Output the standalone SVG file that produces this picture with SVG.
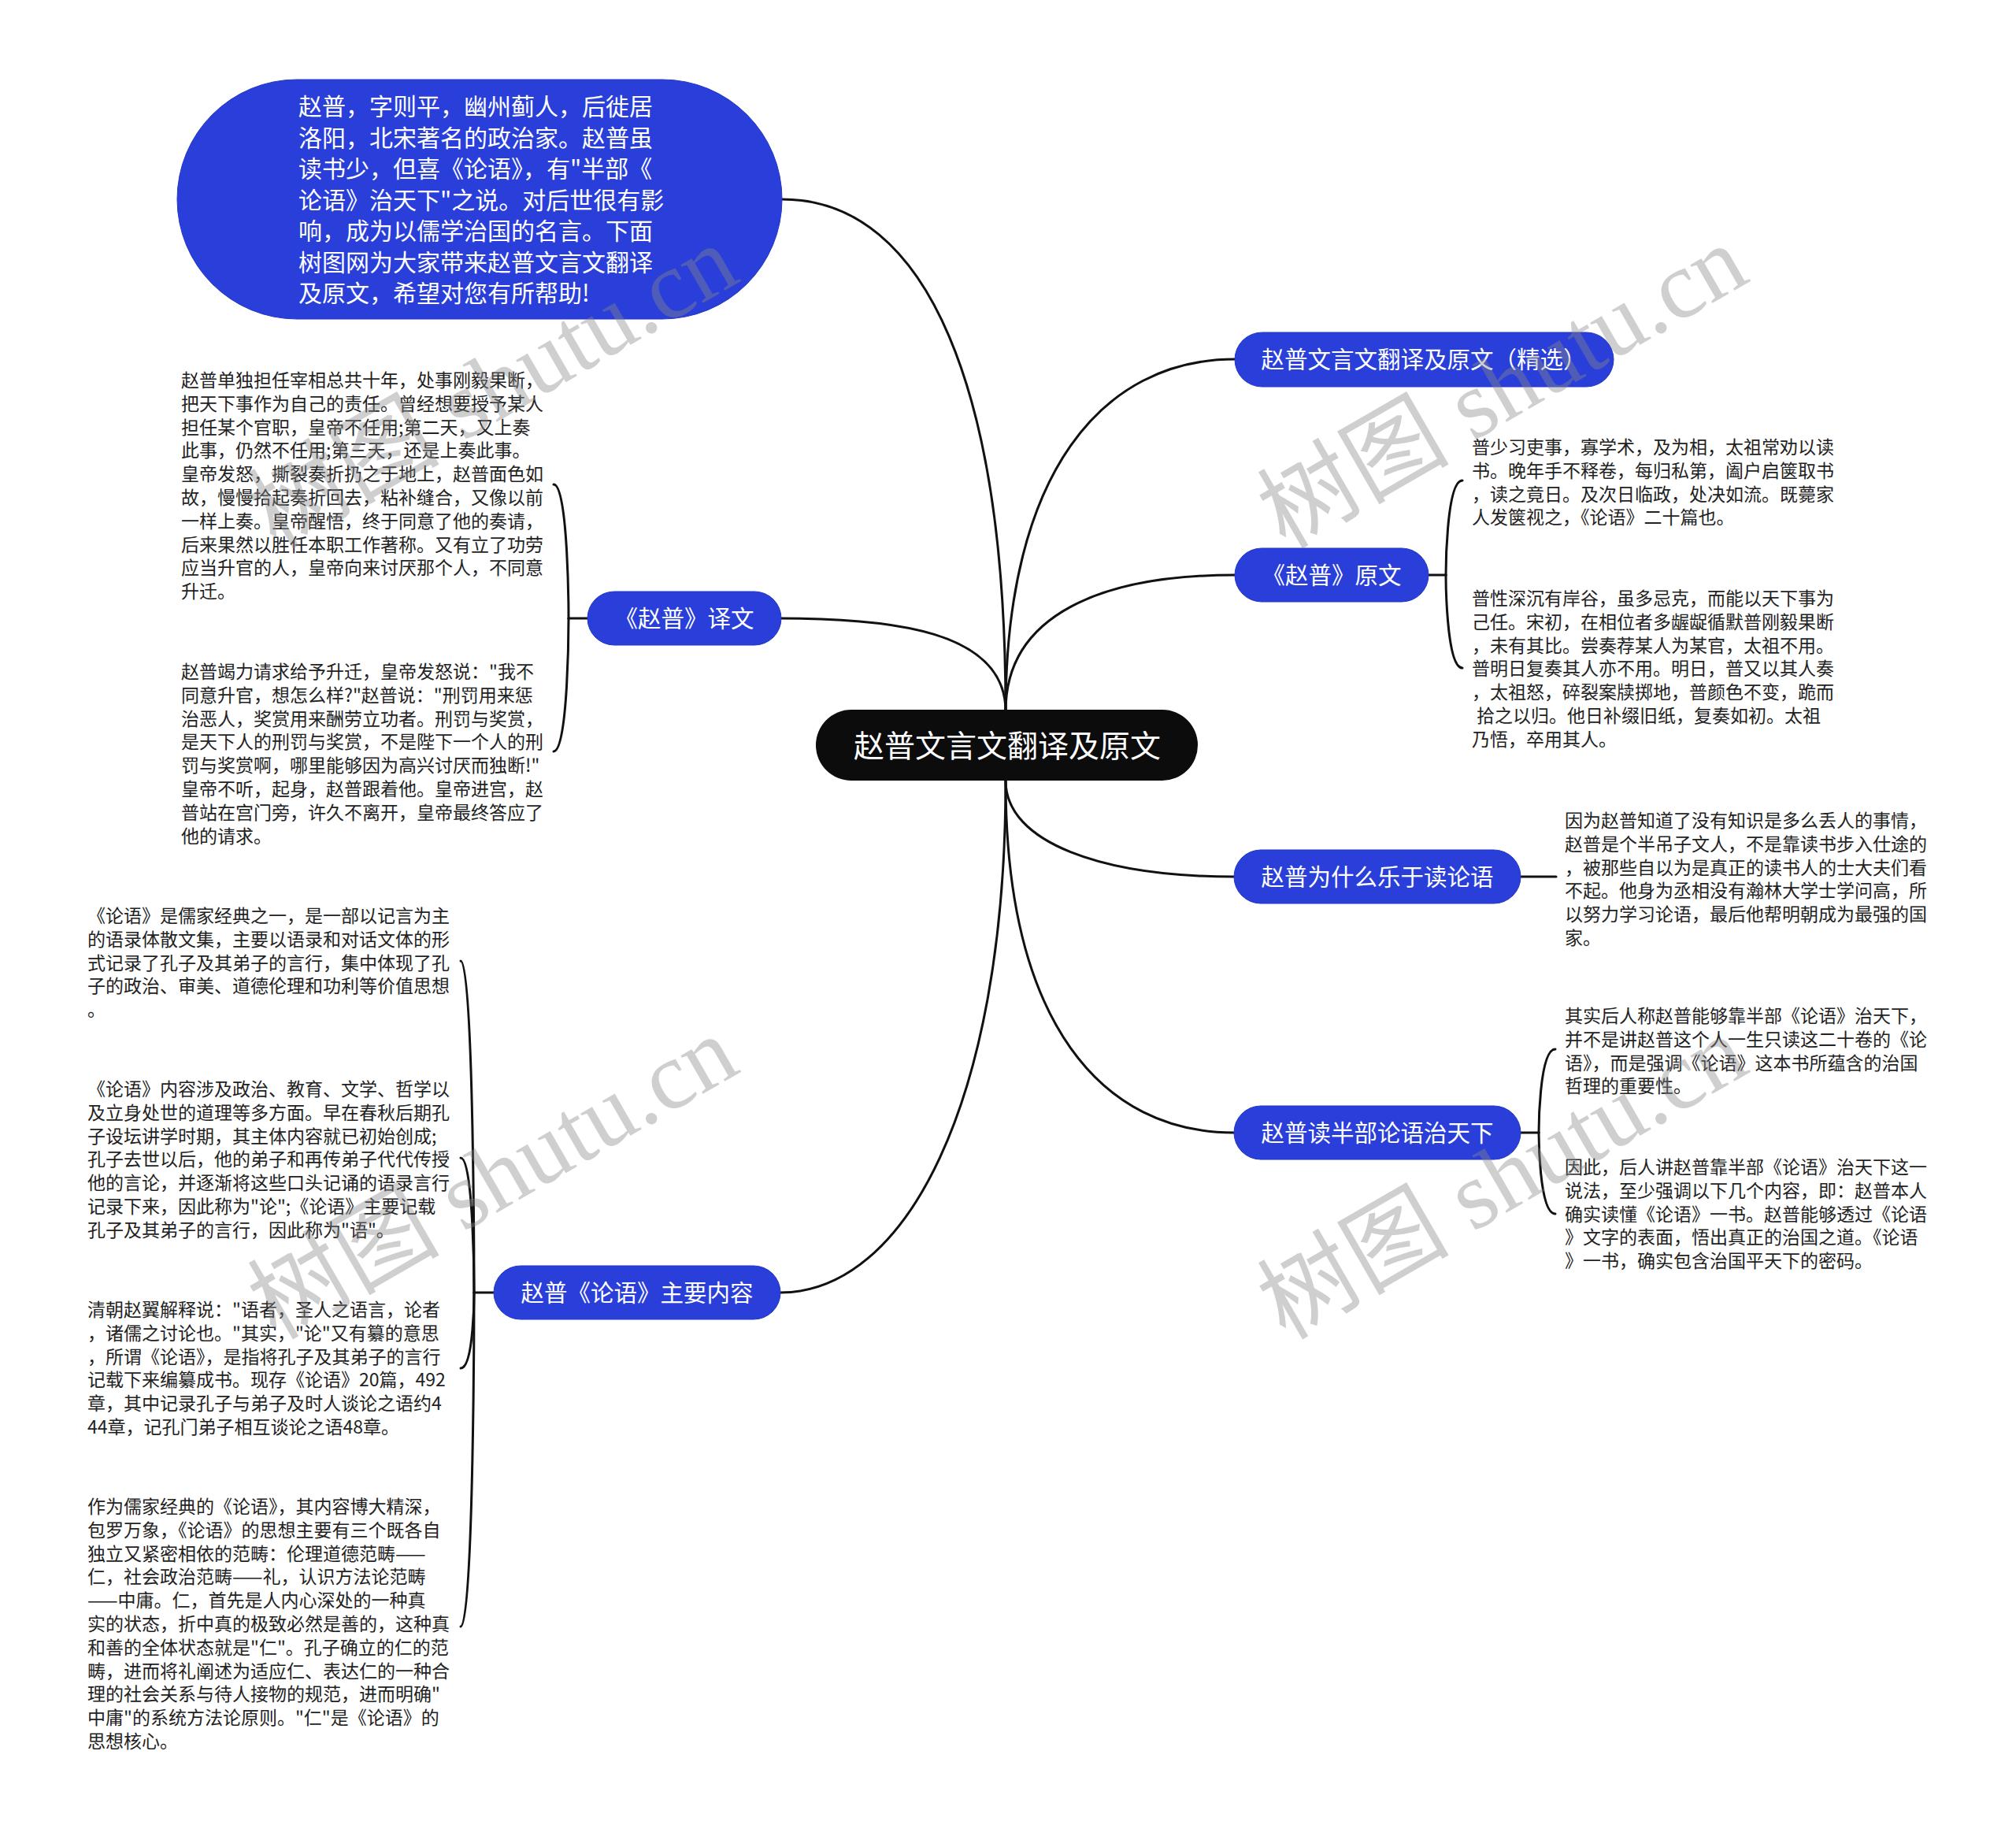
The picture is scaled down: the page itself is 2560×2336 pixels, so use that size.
<svg xmlns="http://www.w3.org/2000/svg" width="2560" height="2336" viewBox="0 0 2560 2336">
<style>
.bg{fill:#ffffff}
.blue{fill:#2a3fd9;stroke:#2336c6;stroke-width:1}
.root{fill:#0c0c0c}
.lnk{fill:none;stroke:#111;stroke-width:3;stroke-linecap:round}
.t-root{font-family:"Noto Sans CJK SC","Noto Sans",sans-serif;font-size:39px;fill:#fff;text-anchor:middle}
.t-n1{font-family:"Noto Sans CJK SC","Noto Sans",sans-serif;font-size:29.5px;fill:#fff;text-anchor:middle}
.t-intro{font-family:"Noto Sans CJK SC","Noto Sans",sans-serif;font-size:30px;fill:#fff}
.t-leaf{font-family:"Noto Sans CJK SC","Noto Sans",sans-serif;font-size:23px;fill:#222}
.wm{font-family:"Liberation Serif","Noto Sans CJK SC",serif;font-size:122px;fill:#888;opacity:0.4}
</style>
<rect class="bg" x="0" y="0" width="2560" height="2336"/>

<g id="connectors">
<path class="lnk" d="M 1277 903 C 1277 500, 1180 253, 993 253"/>
<path class="lnk" d="M 1277 903 C 1277 800, 1130 785, 992 785"/>
<path class="lnk" d="M 1277 903 C 1277 600, 1400 456, 1568 456"/>
<path class="lnk" d="M 1277 903 C 1277 780, 1400 730, 1568 730"/>
<path class="lnk" d="M 1277 991 C 1277 1070, 1400 1113, 1567 1113"/>
<path class="lnk" d="M 1277 991 C 1277 1300, 1400 1438, 1567 1438"/>
<path class="lnk" d="M 1277 991 C 1277 1400, 1150 1641, 991 1641"/>
<path class="lnk" d="M 1814 730 H 1836"/>
<path class="lnk" d="M 1836 730 C 1836 730, 1836 610, 1857 610"/>
<path class="lnk" d="M 1836 730 C 1836 730, 1836 848, 1857 848"/>
<path class="lnk" d="M 1931 1113 H 1976"/>
<path class="lnk" d="M 1931 1438 H 1954"/>
<path class="lnk" d="M 1954 1438 C 1954 1438, 1954 1332, 1975 1332"/>
<path class="lnk" d="M 1954 1438 C 1954 1438, 1954 1541, 1975 1541"/>
<path class="lnk" d="M 746 785 H 722"/>
<path class="lnk" d="M 722 785 C 722 785, 722 615, 703 615"/>
<path class="lnk" d="M 722 785 C 722 785, 722 954, 703 954"/>
<path class="lnk" d="M 627 1641 H 602"/>
<path class="lnk" d="M 602 1641 C 602 1641, 602 1220, 585 1220"/>
<path class="lnk" d="M 602 1641 C 602 1641, 602 1470, 585 1470"/>
<path class="lnk" d="M 602 1641 C 602 1641, 602 1737, 585 1737"/>
<path class="lnk" d="M 602 1641 C 602 1641, 602 2065, 585 2065"/>
</g>

<g id="node-intro">
<rect class="blue" x="225" y="101" width="768" height="304" rx="152" ry="152"/>
<text class="t-intro" x="379" y="146">
<tspan x="379" dy="0">赵普，字则平，幽州蓟人，后徙居</tspan>
<tspan x="379" dy="39.5">洛阳，北宋著名的政治家。赵普虽</tspan>
<tspan x="379" dy="39.5">读书少，但喜《论语》，有"半部《</tspan>
<tspan x="379" dy="39.5">论语》治天下"之说。对后世很有影</tspan>
<tspan x="379" dy="39.5">响，成为以儒学治国的名言。下面</tspan>
<tspan x="379" dy="39.5">树图网为大家带来赵普文言文翻译</tspan>
<tspan x="379" dy="39.5">及原文，希望对您有所帮助!</tspan>
</text>
</g>

<g id="node-root">
<rect class="root" x="1036" y="901" width="485" height="90" rx="45" ry="45"/>
<text class="t-root" x="1279" y="961">赵普文言文翻译及原文</text>
</g>

<g id="node-jingxuan">
<rect class="blue" x="1568" y="422" width="481" height="69" rx="34.5" ry="34.5"/>
<text class="t-n1" x="1808" y="467">赵普文言文翻译及原文（精选）</text>
</g>

<g id="node-yuanwen">
<rect class="blue" x="1568" y="696" width="246" height="68" rx="34" ry="34"/>
<text class="t-n1" x="1691" y="741">《赵普》原文</text>
</g>
<g id="leaf-yuanwen-1">
<text class="t-leaf" x="1869" y="576">
<tspan x="1869" dy="0">普少习吏事，寡学术，及为相，太祖常劝以读</tspan>
<tspan x="1869" dy="29.8">书。晚年手不释卷，每归私第，阖户启箧取书</tspan>
<tspan x="1869" dy="29.8">，读之竟日。及次日临政，处决如流。既薨家</tspan>
<tspan x="1869" dy="29.8">人发箧视之，《论语》二十篇也。</tspan>
</text>
</g>
<g id="leaf-yuanwen-2">
<text class="t-leaf" x="1869" y="768">
<tspan x="1869" dy="0">普性深沉有岸谷，虽多忌克，而能以天下事为</tspan>
<tspan x="1869" dy="29.8">己任。宋初，在相位者多龌龊循默普刚毅果断</tspan>
<tspan x="1869" dy="29.8">，未有其比。尝奏荐某人为某官，太祖不用。</tspan>
<tspan x="1869" dy="29.8">普明日复奏其人亦不用。明日，普又以其人奏</tspan>
<tspan x="1869" dy="29.8">，太祖怒，碎裂案牍掷地，普颜色不变，跪而</tspan>
<tspan x="1875" dy="29.8">拾之以归。他日补缀旧纸，复奏如初。太祖</tspan>
<tspan x="1869" dy="29.8">乃悟，卒用其人。</tspan>
</text>
</g>

<g id="node-weishenme">
<rect class="blue" x="1567" y="1079" width="364" height="68" rx="34" ry="34"/>
<text class="t-n1" x="1749" y="1124">赵普为什么乐于读论语</text>
</g>
<g id="leaf-weishenme">
<text class="t-leaf" x="1987" y="1050">
<tspan x="1987" dy="0">因为赵普知道了没有知识是多么丢人的事情，</tspan>
<tspan x="1987" dy="29.8">赵普是个半吊子文人，不是靠读书步入仕途的</tspan>
<tspan x="1987" dy="29.8">，被那些自以为是真正的读书人的士大夫们看</tspan>
<tspan x="1987" dy="29.8">不起。他身为丞相没有瀚林大学士学问高，所</tspan>
<tspan x="1987" dy="29.8">以努力学习论语，最后他帮明朝成为最强的国</tspan>
<tspan x="1987" dy="29.8">家。</tspan>
</text>
</g>

<g id="node-banbu">
<rect class="blue" x="1567" y="1404" width="364" height="68" rx="34" ry="34"/>
<text class="t-n1" x="1749" y="1449">赵普读半部论语治天下</text>
</g>
<g id="leaf-banbu-1">
<text class="t-leaf" x="1987" y="1298">
<tspan x="1987" dy="0">其实后人称赵普能够靠半部《论语》治天下，</tspan>
<tspan x="1987" dy="29.8">并不是讲赵普这个人一生只读这二十卷的《论</tspan>
<tspan x="1987" dy="29.8">语》，而是强调《论语》这本书所蕴含的治国</tspan>
<tspan x="1987" dy="29.8">哲理的重要性。</tspan>
</text>
</g>
<g id="leaf-banbu-2">
<text class="t-leaf" x="1987" y="1490">
<tspan x="1987" dy="0">因此，后人讲赵普靠半部《论语》治天下这一</tspan>
<tspan x="1987" dy="29.8">说法，至少强调以下几个内容，即：赵普本人</tspan>
<tspan x="1987" dy="29.8">确实读懂《论语》一书。赵普能够透过《论语</tspan>
<tspan x="1987" dy="29.8">》文字的表面，悟出真正的治国之道。《论语</tspan>
<tspan x="1987" dy="29.8">》一书，确实包含治国平天下的密码。</tspan>
</text>
</g>

<g id="node-yiwen">
<rect class="blue" x="746" y="751" width="246" height="68" rx="34" ry="34"/>
<text class="t-n1" x="869" y="796">《赵普》译文</text>
</g>
<g id="leaf-yiwen-1">
<text class="t-leaf" x="230" y="491">
<tspan x="230" dy="0">赵普单独担任宰相总共十年，处事刚毅果断，</tspan>
<tspan x="230" dy="29.8">把天下事作为自己的责任。曾经想要授予某人</tspan>
<tspan x="230" dy="29.8">担任某个官职，皇帝不任用;第二天，又上奏</tspan>
<tspan x="230" dy="29.8">此事，仍然不任用;第三天，还是上奏此事。</tspan>
<tspan x="230" dy="29.8">皇帝发怒，撕裂奏折扔之于地上，赵普面色如</tspan>
<tspan x="230" dy="29.8">故，慢慢拾起奏折回去，粘补缝合，又像以前</tspan>
<tspan x="230" dy="29.8">一样上奏。皇帝醒悟，终于同意了他的奏请，</tspan>
<tspan x="230" dy="29.8">后来果然以胜任本职工作著称。又有立了功劳</tspan>
<tspan x="230" dy="29.8">应当升官的人，皇帝向来讨厌那个人，不同意</tspan>
<tspan x="230" dy="29.8">升迁。</tspan>
</text>
</g>
<g id="leaf-yiwen-2">
<text class="t-leaf" x="230" y="861">
<tspan x="230" dy="0">赵普竭力请求给予升迁，皇帝发怒说："我不</tspan>
<tspan x="230" dy="29.8">同意升官，想怎么样?"赵普说："刑罚用来惩</tspan>
<tspan x="230" dy="29.8">治恶人，奖赏用来酬劳立功者。刑罚与奖赏，</tspan>
<tspan x="230" dy="29.8">是天下人的刑罚与奖赏，不是陛下一个人的刑</tspan>
<tspan x="230" dy="29.8">罚与奖赏啊，哪里能够因为高兴讨厌而独断!"</tspan>
<tspan x="230" dy="29.8">皇帝不听，起身，赵普跟着他。皇帝进宫，赵</tspan>
<tspan x="230" dy="29.8">普站在宫门旁，许久不离开，皇帝最终答应了</tspan>
<tspan x="230" dy="29.8">他的请求。</tspan>
</text>
</g>

<g id="node-zhuyao">
<rect class="blue" x="627" y="1607" width="364" height="68" rx="34" ry="34"/>
<text class="t-n1" x="809" y="1652">赵普《论语》主要内容</text>
</g>
<g id="leaf-zhuyao-1">
<text class="t-leaf" x="111" y="1171">
<tspan x="111" dy="0">《论语》是儒家经典之一，是一部以记言为主</tspan>
<tspan x="111" dy="29.8">的语录体散文集，主要以语录和对话文体的形</tspan>
<tspan x="111" dy="29.8">式记录了孔子及其弟子的言行，集中体现了孔</tspan>
<tspan x="111" dy="29.8">子的政治、审美、道德伦理和功利等价值思想</tspan>
<tspan x="111" dy="29.8">。</tspan>
</text>
</g>
<g id="leaf-zhuyao-2">
<text class="t-leaf" x="111" y="1391">
<tspan x="111" dy="0">《论语》内容涉及政治、教育、文学、哲学以</tspan>
<tspan x="111" dy="29.8">及立身处世的道理等多方面。早在春秋后期孔</tspan>
<tspan x="111" dy="29.8">子设坛讲学时期，其主体内容就已初始创成;</tspan>
<tspan x="111" dy="29.8">孔子去世以后，他的弟子和再传弟子代代传授</tspan>
<tspan x="111" dy="29.8">他的言论，并逐渐将这些口头记诵的语录言行</tspan>
<tspan x="111" dy="29.8">记录下来，因此称为"论";《论语》主要记载</tspan>
<tspan x="111" dy="29.8">孔子及其弟子的言行，因此称为"语"。</tspan>
</text>
</g>
<g id="leaf-zhuyao-3">
<text class="t-leaf" x="111" y="1671">
<tspan x="111" dy="0">清朝赵翼解释说："语者，圣人之语言，论者</tspan>
<tspan x="111" dy="29.8">，诸儒之讨论也。"其实，"论"又有纂的意思</tspan>
<tspan x="111" dy="29.8">，所谓《论语》，是指将孔子及其弟子的言行</tspan>
<tspan x="111" dy="29.8">记载下来编纂成书。现存《论语》20篇，492</tspan>
<tspan x="111" dy="29.8">章，其中记录孔子与弟子及时人谈论之语约4</tspan>
<tspan x="111" dy="29.8">44章，记孔门弟子相互谈论之语48章。</tspan>
</text>
</g>
<g id="leaf-zhuyao-4">
<text class="t-leaf" x="111" y="1921">
<tspan x="111" dy="0">作为儒家经典的《论语》，其内容博大精深，</tspan>
<tspan x="111" dy="29.8">包罗万象，《论语》的思想主要有三个既各自</tspan>
<tspan x="111" dy="29.8">独立又紧密相依的范畴：伦理道德范畴——</tspan>
<tspan x="111" dy="29.8">仁，社会政治范畴——礼，认识方法论范畴</tspan>
<tspan x="111" dy="29.8">——中庸。仁，首先是人内心深处的一种真</tspan>
<tspan x="111" dy="29.8">实的状态，折中真的极致必然是善的，这种真</tspan>
<tspan x="111" dy="29.8">和善的全体状态就是"仁"。孔子确立的仁的范</tspan>
<tspan x="111" dy="29.8">畴，进而将礼阐述为适应仁、表达仁的一种合</tspan>
<tspan x="111" dy="29.8">理的社会关系与待人接物的规范，进而明确"</tspan>
<tspan x="111" dy="29.8">中庸"的系统方法论原则。"仁"是《论语》的</tspan>
<tspan x="111" dy="29.8">思想核心。</tspan>
</text>
</g>

<g id="watermarks">
<text class="wm" transform="translate(350,698) rotate(-30)">树图 shutu.cn</text>
<text class="wm" transform="translate(1632,698) rotate(-30)">树图 shutu.cn</text>
<text class="wm" transform="translate(350,1702) rotate(-30)">树图 shutu.cn</text>
<text class="wm" transform="translate(1632,1702) rotate(-30)">树图 shutu.cn</text>
</g>
</svg>
